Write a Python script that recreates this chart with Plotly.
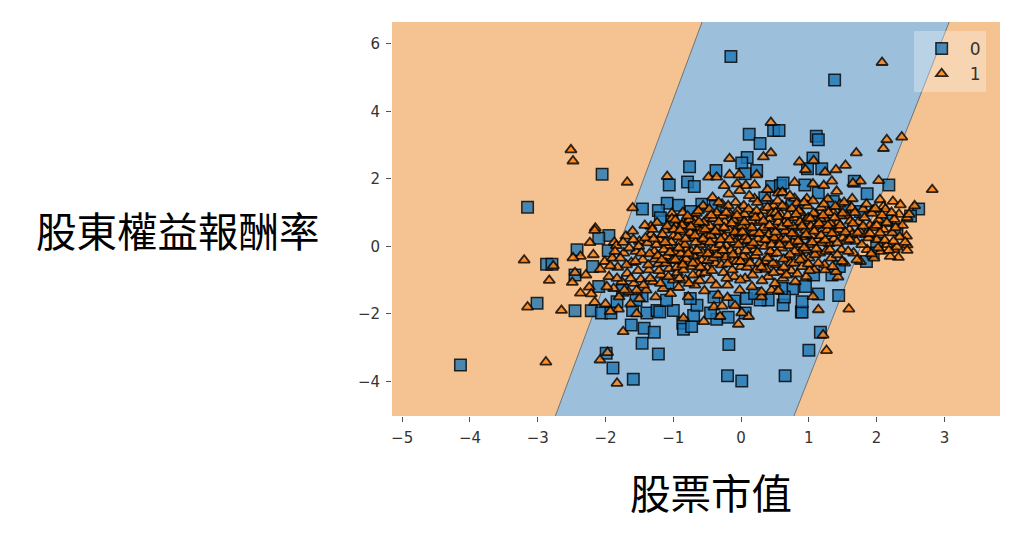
import plotly.graph_objects as go

# decision boundary
boundary_left_x = [-2.74, -0.575]
boundary_right_x = [0.78, 3.07]
boundary_y = [-5.03, 6.65]

x_ticks = [-5, -4, -3, -2, -1, 0, 1, 2, 3]
y_ticks = [-4, -2, 0, 2, 4, 6]

# class 0, points that can be made out
squares_top = [(-0.15,5.63),(1.38,4.93),(0.12,3.32),(0.28,3.05),(0.48,3.43),(0.56,3.43),(1.11,3.26),(1.14,3.16),
    (0.09,2.63),(0.01,2.47),(0.06,2.15),(0.23,2.25),(-0.37,2.25),(1.06,2.62),(0.98,2.3),(1.19,2.3),(2.18,1.82),
    (2.62,1.11),(1.67,1.93),(1.86,1.56),(0.45,1.77),(0.58,1.8),(0.94,1.82),(0.62,1.88),(1.14,1.59),(1.36,1.33),
    (1.76,1.03),(2.15,0.76),(0.75,1.21),(1.53,1.18),(-0.58,1.25),(-0.38,1.18),(0.35,1.44),(-2.05,2.14),(-3.15,1.16),
    (-1.455,1.11),(-1.06,1.82),(-0.76,2.36),(-0.79,1.91),(-0.69,1.77),(-1.09,1.28),(-0.92,1.22),(-1.22,1.06),
    (-1.19,0.85),(-0.74,1.03),(-1.02,0.74)]
squares_left = [(-2.87,-0.53),(-2.79,-0.53),(-3.01,-1.69),(-2.45,-1.91),(-2.21,-1.91),(-2.42,-0.1),(-1.95,0.32),
    (-2.1,0.24),(-1.96,-0.13),(-2.19,-0.6),(-2.45,-0.85),(-2.1,-1.19),(-2.06,-1.98),(-1.83,-1.64),(-1.39,-1.98),
    (-1.24,-1.9),(-1.46,-1.47),(-1.08,-1.09)]
squares_bottom = [(-4.14,-3.52),(-1.99,-3.17),(-1.89,-3.61),(-1.59,-3.94),(-1.22,-3.19),(-1.46,-2.87),(-0.18,-2.91),
    (-0.2,-3.84),(0.01,-3.99),(0.65,-3.84),(1.0,-3.08),(1.17,-2.55),(-1.62,-2.33),(-1.43,-2.43),(-1.28,-2.55),
    (-0.86,-2.28),(-0.85,-2.46),(-0.73,-2.38),(-0.7,-2.05),(-0.36,-2.16),(-0.19,-2.1),(0.06,-1.98),(-0.45,-1.98),
    (0.89,-1.95),(0.62,-1.74),(-1.92,-1.98),(-1.6,-1.9),(-1.2,-1.95),(-1.0,-1.9),(-0.65,-1.75)]
squares_right = [(1.44,-1.46),(0.9,-1.95),(0.76,-1.26),(0.95,-1.19),(1.14,-1.41),(0.9,-1.64),(0.4,-1.59),(0.28,-1.59),
    (0.08,-1.55),(0.64,-1.5),(1.45,-0.6),(1.85,-0.45),(1.34,-0.85),(1.07,-0.85),(0.6,-1.25),(0.2,-1.4),(-0.1,-1.62),
    (-0.4,-1.5),(-0.75,-1.55),(-1.1,-1.6),(-1.55,-1.6),(-1.75,-1.3),(2.0,0.1),(2.3,0.5),(2.5,0.9),(1.95,-0.2)]

# class 1, points that can be made out
triangles_top = [(-2.51,2.86),(-2.48,2.53),(-1.68,1.9),(-1.6,1.14),(-1.09,2.07),(-1.02,0.98),(-2.15,0.54),(-1.33,0.59),
    (-0.85,0.71),(-0.78,0.77),(-0.68,0.79),(2.08,5.45),(0.44,3.67),(0.44,2.77),(0.33,2.65),(-0.17,2.6),(0.86,2.5),
    (1.07,2.54),(0.95,2.27),(1.7,2.77),(1.54,2.4),(1.4,2.27),(1.24,2.2),(2.15,3.16),(2.37,3.24),(2.1,2.9),(2.82,1.68),
    (2.03,1.95),(1.76,1.93),(1.65,1.87),(1.34,1.93),(0.79,1.89),(1.06,1.85),(1.22,1.8),(1.41,1.63),(-0.48,2.05),
    (-0.36,2.05),(-0.17,2.12),(-0.03,2.12),(0.23,2.12),(-0.25,1.8),(-0.06,1.85),(0.07,1.8),(0.2,1.82),(0.39,1.68),
    (0.55,1.58),(0.61,1.6),(0.79,1.42),(0.97,1.41),(0.2,1.41),(1.64,1.41),(2.05,1.38),(2.24,1.33),(2.35,1.23),
    (2.56,1.2),(1.95,1.08),(2.1,1.18),(2.33,0.95),(2.45,0.85)]
triangles_left = [(-3.2,-0.41),(-2.77,-0.58),(-2.83,-1.01),(-3.15,-1.8),(-2.65,-1.9),(-2.16,0.47),(-2.23,0.11),
    (-2.18,-0.25),(-1.87,0.12),(-2.37,-0.3),(-2.48,-0.34),(-2.45,-0.78),(-2.29,-0.85),(-2.49,-1.07),(-2.24,-1.21),
    (-2.37,-1.39),(-2.21,-1.41),(-2.16,-1.66),(-2.08,-0.68),(-2.01,-0.45),(-1.74,-2.53),(-2.0,-1.71),(-1.81,-1.86),
    (-1.63,-1.71),(-1.93,-1.93),(-1.54,-2.0)]
triangles_bottom = [(-2.88,-3.43),(-1.97,-3.15),(-2.08,-3.37),(-1.83,-4.06),(-0.85,-2.13),(-0.55,-2.23),(-0.31,-2.08),
    (-0.04,-2.31),(0.11,-2.08),(0.01,-1.97),(1.14,-1.88),(1.21,-2.63),(1.26,-3.09),(1.59,-1.86),(1.06,-1.49),(-0.4,-1.8),
    (-0.28,-1.77),(-0.09,-1.76),(-0.2,-1.52),(0.3,-1.5),(0.45,-1.3),(0.55,-1.32),(1.43,-0.91),(1.24,-0.7),(2.32,-0.33),
    (2.45,0.04),(2.26,-0.1),(2.44,0.3)]

# the dense middle of the cloud, slice by slice from left to right
triangles_core_a = [(-1.95,-0.9),(-1.9,-0.35),(-1.88,-1.25),(-1.84,0.02),(-1.82,-0.62),(-1.8,-1.5),(-1.76,-1.05),
    (-1.73,-0.2),(-1.7,0.3),(-1.68,-0.8),(-1.66,-1.35),(-1.62,-0.48),(-1.6,0.45),(-1.58,-1.1),(-1.55,-0.15),(-1.52,-0.72),
    (-1.5,-1.55),(-1.5,0.15),(-1.48,-0.98),(-1.45,-0.4),(-1.42,0.62),(-1.4,-1.3),(-1.38,0.1),(-1.36,-0.7),(-1.33,0.35),
    (-1.3,-1.05),(-1.28,-0.15),(-1.26,-1.5),(-1.24,0.7),(-1.22,-0.52),(-1.2,0.2),(-1.18,-0.85),(-1.15,-1.25),(-1.13,0.48),
    (-1.1,-0.3),(-1.08,0.02),(-1.06,-0.66),(-1.04,-1.4),(-1.02,0.82),(-1.0,-1.0),(-1.0,0.3)]
triangles_core_b = [(-0.98,-0.18),(-0.96,0.6),(-0.94,-0.78),(-0.92,-1.22),(-0.9,0.12),(-0.88,-0.45),(-0.86,1.0),
    (-0.84,0.42),(-0.82,-1.0),(-0.8,-0.08),(-0.78,-1.5),(-0.76,0.78),(-0.74,-0.6),(-0.72,0.25),(-0.7,-0.28),(-0.68,-1.15),
    (-0.66,0.98),(-0.64,0.55),(-0.62,-0.82),(-0.6,0.05),(-0.58,-0.42),(-0.56,1.2),(-0.54,-1.32),(-0.52,0.35),(-0.5,-0.65),
    (-0.5,0.82),(-0.48,-0.12),(-0.46,0.6),(-0.44,-1.0),(-0.42,1.45),(-0.4,0.2),(-0.38,-0.5),(-0.36,1.0),(-0.34,-1.45),
    (-0.32,0.42),(-0.3,-0.25),(-0.28,1.25),(-0.26,-0.78),(-0.24,0.72),(-0.22,0.02),(-0.2,-1.15),(-0.18,1.55),(-0.16,0.95),
    (-0.14,-0.4),(-0.12,0.3),(-0.1,-0.9),(-0.08,1.3),(-0.06,0.55),(-0.04,-0.15),(-0.02,-1.3),(-0.02,1.65),(0,0.85),(0,-0.6)]
triangles_core_c = [(0.02,0.15),(0.04,1.2),(0.06,-0.95),(0.08,0.6),(0.1,-0.35),(0.12,1.5),(0.14,0.38),(0.16,-1.2),
    (0.18,0.95),(0.2,-0.1),(0.22,-0.7),(0.24,1.3),(0.26,0.7),(0.28,0.1),(0.3,-1.35),(0.32,1.05),(0.34,-0.45),(0.36,0.48),
    (0.38,1.42),(0.4,-0.9),(0.42,0.82),(0.44,0.18),(0.46,-0.22),(0.48,1.2),(0.5,-1.1),(0.5,0.58),(0.52,-0.55),(0.54,1.35),
    (0.56,0.3),(0.58,0.95),(0.6,-0.05),(0.62,-0.95),(0.64,0.7),(0.66,1.15),(0.68,-0.35),(0.7,0.45),(0.72,1.5),(0.74,-0.72),
    (0.76,0.12),(0.78,0.85),(0.8,-1.05),(0.82,1.28),(0.84,0.55),(0.86,-0.2),(0.88,1.0),(0.9,-0.6),(0.92,0.28),(0.94,0.75),
    (0.96,-0.9),(0.98,1.2),(1,0.05),(1,-0.35)]
triangles_core_d = [(1.03,0.6),(1.06,1.35),(1.08,-0.7),(1.1,0.95),(1.13,0.2),(1.16,-0.2),(1.18,1.15),(1.2,0.5),(1.23,-0.55),
    (1.26,0.8),(1.28,1.4),(1.3,0.08),(1.33,-0.35),(1.36,1.0),(1.38,0.4),(1.4,-0.75),(1.43,0.7),(1.46,1.25),(1.48,-0.1),
    (1.5,0.25),(1.53,-0.5),(1.56,0.9),(1.6,0.5),(1.63,1.15),(1.66,-0.2),(1.7,0.15),(1.73,0.72),(1.76,-0.45),(1.8,1.1),
    (1.83,0.35),(1.86,-0.1),(1.9,0.62),(1.93,0.98),(1.96,-0.35),(2,0.2),(2.03,0.78),(2.06,-0.15),(2.1,0.5),(2.13,1.1),
    (2.16,0.05),(2.2,-0.3),(2.23,0.4),(2.26,0.8),(2.3,-0.02),(2.34,0.28),(2.38,0.62),(2.42,0.12),(2.45,-0.12),(2.48,0.95)]
# second pass over the cloud, it is packed much tighter than the first pass alone
triangles_fill_a = [(-1.98,-1.2),(-1.93,-0.58),(-1.86,-0.15),(-1.83,-0.95),(-1.78,-0.35),(-1.74,0.12),(-1.72,-1.3),
    (-1.69,-0.55),(-1.65,-0.05),(-1.63,-0.95),(-1.59,0.2),(-1.56,-0.45),(-1.54,-1.3),(-1.51,0.0),(-1.47,-0.2),(-1.44,-1.15),
    (-1.41,0.25),(-1.37,-0.55),(-1.34,-0.95),(-1.31,0.5),(-1.27,-0.38),(-1.25,0.05),(-1.21,-0.72),(-1.19,-1.1),(-1.16,0.35),
    (-1.14,-0.1),(-1.11,-0.5),(-1.09,0.6),(-1.07,-0.9),(-1.03,0.12),(-1.01,-0.42),(-0.97,0.78),(-0.95,-0.62),(-0.93,0.28),
    (-0.91,-0.95),(-0.89,-0.22),(-0.87,0.62),(-0.85,-0.7),(-0.83,0.05),(-0.81,-0.38),(-0.79,0.9),(-0.77,-1.1),(-0.75,0.4),
    (-0.73,-0.15),(-0.71,-0.85),(-0.69,0.65),(-0.67,0.12),(-0.65,-0.5),(-0.63,1.05),(-0.61,-1.02),(-0.59,0.45),(-0.57,-0.2),
    (-0.55,0.7),(-0.53,-0.78),(-0.51,0.15)]
triangles_fill_b = [(-0.49,-0.42),(-0.47,1.1),(-0.45,0.32),(-0.43,-0.72),(-0.41,0.82),(-0.39,-0.05),(-0.37,-1.15),(-0.35,0.55),
    (-0.33,1.3),(-0.31,0.05),(-0.29,-0.55),(-0.27,0.9),(-0.25,0.28),(-0.23,-0.32),(-0.21,-0.95),(-0.19,1.2),(-0.17,0.48),
    (-0.15,-0.12),(-0.13,-0.7),(-0.11,0.78),(-0.09,0.12),(-0.07,-0.45),(-0.05,1.05),(-0.03,0.38),(-0.01,-1.0),(0.01,0.6),
    (0.03,-0.3),(0.05,0.95),(0.07,0.28),(0.09,-0.62),(0.11,1.1),(0.13,0.02),(0.15,0.75),(0.17,-0.85),(0.19,0.42),(0.21,-0.28),
    (0.23,1.05),(0.25,0.22),(0.27,-0.5),(0.29,0.88),(0.31,-1.02),(0.33,0.55),(0.35,0.0),(0.37,-0.68),(0.39,1.15),(0.41,0.35),
    (0.43,-0.15),(0.45,0.98),(0.47,-0.5),(0.49,0.25)]
triangles_fill_c = [(0.51,1.0),(0.53,-0.2),(0.55,0.72),(0.57,-0.75),(0.59,0.18),(0.61,1.2),(0.63,-0.38),(0.65,0.45),(0.67,-0.85),
    (0.69,0.92),(0.71,0.02),(0.73,-0.5),(0.75,1.12),(0.77,0.6),(0.79,-0.15),(0.81,0.3),(0.83,-0.82),(0.85,1.05),(0.87,0.72),
    (0.89,0.05),(0.91,-0.35),(0.93,1.3),(0.95,0.48),(0.97,-0.12),(0.99,0.85),(1.01,-0.72),(1.04,0.32),(1.07,0.98),(1.09,-0.25),
    (1.12,0.62),(1.14,-0.5),(1.17,0.82),(1.19,0.1),(1.22,1.25),(1.25,-0.15),(1.27,0.48),(1.29,1.0),(1.32,0.68),(1.35,-0.6),
    (1.37,0.22),(1.39,1.18),(1.42,-0.25),(1.45,0.5),(1.47,0.9),(1.49,-0.45)]
triangles_fill_d = [(1.52,1.3),(1.55,0.15),(1.58,-0.15),(1.61,0.75),(1.64,0.35),(1.68,1.0),(1.71,-0.4),(1.75,0.45),(1.78,0.05),
    (1.82,0.85),(1.85,1.25),(1.88,0.25),(1.92,-0.22),(1.95,0.55),(1.98,1.12),(2.02,-0.05),(2.05,0.4),(2.08,0.92),(2.12,0.18),
    (2.15,0.7),(2.18,-0.12),(2.22,1.0),(2.25,0.15),(2.28,0.55)]
# third pass, only the solid centre
triangles_centre = [(-1.35,-0.22),(-1.29,0.22),(-1.23,-0.28),(-1.17,-0.4),(-1.12,0.12),(-1.05,-0.18),(-0.99,0.5),(-0.97,-0.4),
    (-0.92,-0.05),(-0.9,0.48),(-0.86,-0.55),(-0.82,0.22),(-0.78,-0.22),(-0.74,0.58),(-0.71,-0.5),(-0.68,0.32),(-0.65,-0.12),
    (-0.62,0.72),(-0.6,-0.62),(-0.56,0.22),(-0.53,0.5),(-0.49,-0.22),(-0.46,0.12),(-0.44,0.92),(-0.41,-0.35),(-0.38,0.45),
    (-0.35,-0.25),(-0.33,0.72),(-0.3,0.2),(-0.27,-0.12),(-0.25,0.55),(-0.22,1.0),(-0.2,-0.52),(-0.17,0.2),(-0.14,0.68),(-0.12,-0.25),
    (-0.09,0.42),(-0.06,0.92),(-0.04,0.05),(-0.01,-0.45),(0.02,0.42),(0.05,0.72),(0.07,-0.12),(0.1,0.18),(0.13,-0.5),(0.16,0.55),
    (0.18,0.1),(0.21,0.85),(0.24,-0.18),(0.27,0.38),(0.3,-0.62),(0.33,0.75),(0.36,0.2),(0.39,-0.35),(0.42,0.62),(0.45,0.05),
    (0.48,-0.78),(0.51,0.42),(0.54,0.88),(0.57,0.05),(0.6,0.58),(0.63,-0.62),(0.66,0.22),(0.69,0.68),(0.72,-0.25),(0.75,0.38),
    (0.78,-0.5),(0.81,0.95),(0.84,0.15),(0.87,-0.4),(0.9,0.6),(0.93,-0.05),(0.96,0.35),(0.99,-0.52),(1.02,0.82),(1.05,0.12),
    (1.08,0.45),(1.11,-0.08),(1.15,0.68),(1.18,0.32),(1.21,0.92),(1.24,0.18),(1.28,0.62),(1.31,-0.1),(1.34,0.38),(1.38,0.85),
    (1.42,0.1),(1.46,0.62),(1.5,0.98),(1.54,0.42),(1.6,0.2),(1.65,0.68),(1.72,0.4),(1.8,0.6),(1.9,0.38),(2.0,0.62)]

squares = squares_top + squares_left + squares_bottom + squares_right
triangles = (triangles_top + triangles_left + triangles_bottom + triangles_core_a + triangles_core_b + triangles_core_c
    + triangles_core_d + triangles_fill_a + triangles_fill_b + triangles_fill_c + triangles_fill_d + triangles_centre)

fig = go.Figure()

# blue band between the two boundaries, the orange is the plot background
fig.add_trace(go.Scatter(x=boundary_left_x + boundary_right_x[::-1], y=boundary_y + boundary_y[::-1], mode="lines",
    fill="toself", fillcolor="#9CBFDC", line=dict(width=0), hoverinfo="skip", showlegend=False))
for edge in [boundary_left_x, boundary_right_x]:
    fig.add_trace(go.Scatter(x=edge, y=boundary_y, mode="lines", line=dict(color="#6f7478", width=1), showlegend=False))

fig.add_trace(go.Scatter(x=[p[0] for p in squares], y=[p[1] for p in squares], mode="markers", name="0",
    marker=dict(symbol="square", size=11.5, color="rgba(31,119,180,0.8)", line=dict(color="rgba(0,0,0,0.8)", width=1.5))))
fig.add_trace(go.Scatter(x=[p[0] for p in triangles], y=[p[1] for p in triangles], mode="markers", name="1",
    marker=dict(symbol="triangle-up", size=10, color="rgba(255,127,14,0.8)", line=dict(color="rgba(0,0,0,0.8)", width=1.8))))

fig.add_annotation(text="股東權益報酬率", xref="paper", yref="paper", x=-0.3512, y=0.4735, showarrow=False,
    font=dict(family="Noto Sans CJK TC", size=40.5, color="black"), yanchor="middle", xanchor="center")
fig.add_annotation(text="股票市值", xref="paper", yref="paper", x=0.525, y=-0.192, showarrow=False,
    font=dict(family="Noto Sans CJK TC", size=40.5, color="black"), yanchor="middle", xanchor="center")

fig.update_xaxes(range=[-5.15, 3.82], tickvals=x_ticks, ticks="outside", ticklen=5, tickwidth=1, tickcolor="#555555",
    showgrid=False, zeroline=False, showline=False, ticklabelstandoff=3)
fig.update_yaxes(range=[-5.03, 6.65], tickvals=y_ticks, ticks="outside", ticklen=5, tickwidth=1, tickcolor="#555555",
    showgrid=False, zeroline=False, showline=False, ticklabelstandoff=3)
fig.update_layout(width=1024, height=539, margin=dict(l=384, r=32, t=14, b=131), paper_bgcolor="white",
    plot_bgcolor="#F5C391", font=dict(family="DejaVu Sans", size=15, color="#333333"),
    legend=dict(x=0.858, y=0.977, xanchor="left", yanchor="top", bgcolor="rgba(255,255,255,0.3)", itemwidth=46,
        font=dict(size=17), tracegroupgap=0, entrywidth=32))

fig.write_html("out.html")
